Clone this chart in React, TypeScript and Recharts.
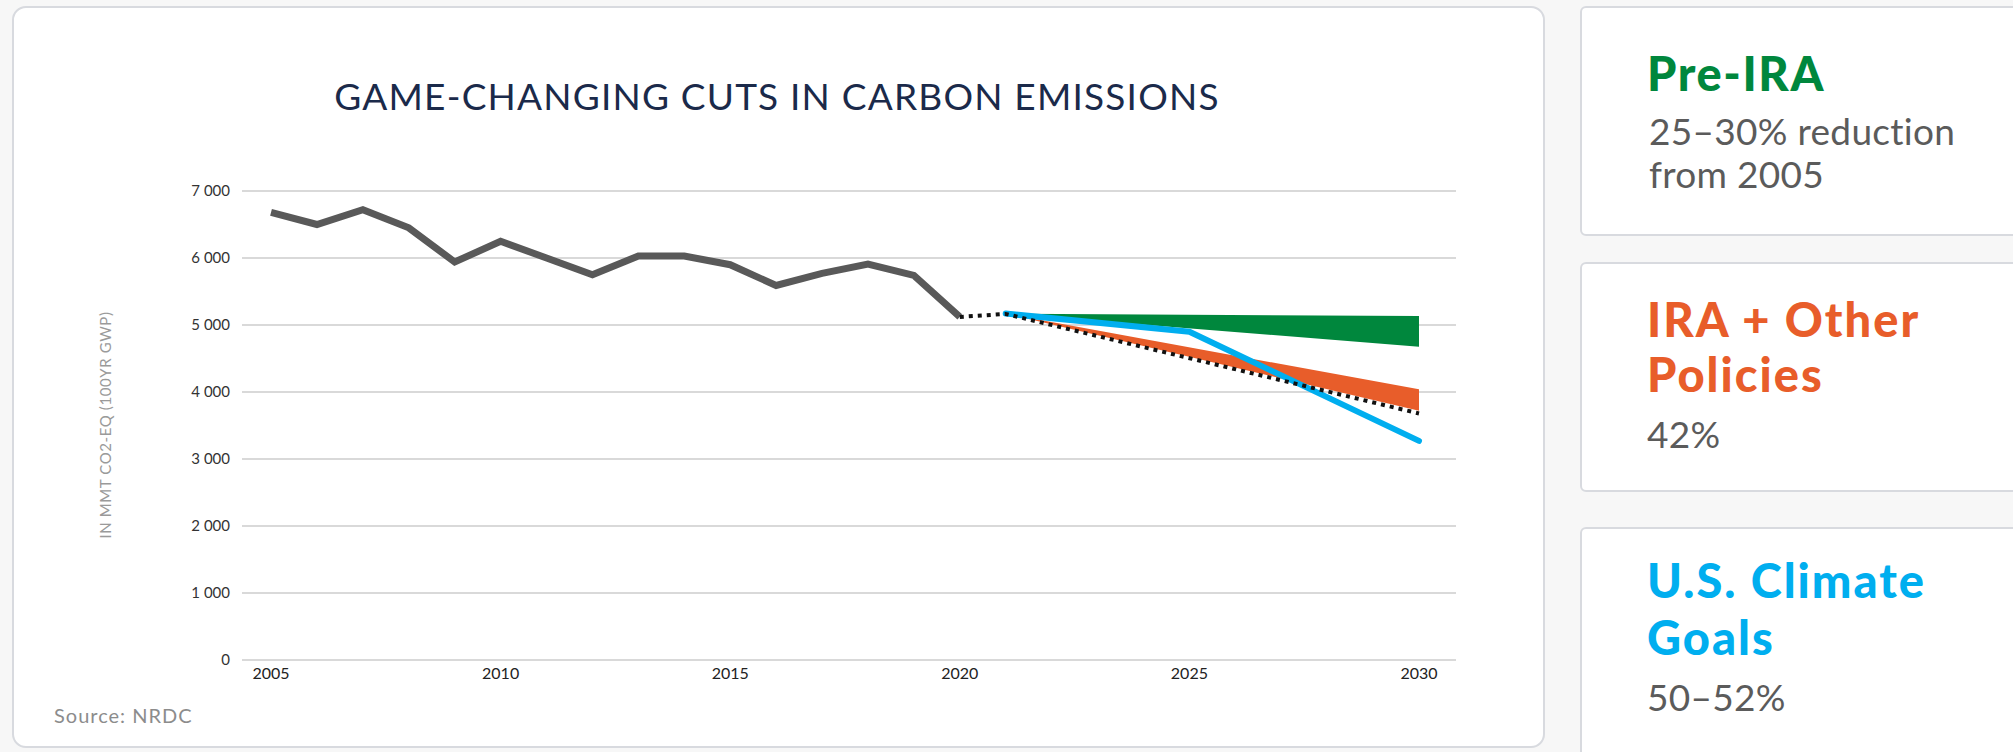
import React from 'react';
import { ComposedChart, Line, Area, XAxis, YAxis, CartesianGrid } from 'recharts';

// Historical emissions (MMT CO2-eq)
const historyYears = [2005, 2006, 2007, 2008, 2009, 2010, 2011, 2012, 2013, 2014, 2015, 2016, 2017, 2018, 2019, 2020];
const historyValues = [6680, 6500, 6720, 6450, 5940, 6250, 6000, 5750, 6030, 6030, 5900, 5590, 5770, 5910, 5740, 5120];

// Dotted trend line
const trendYears = [2020, 2021, 2030];
const trendValues = [5120, 5165, 3680];

// U.S. Climate Goals (blue)
const goalYears = [2021, 2025, 2030];
const goalValues = [5170, 4900, 3270];

// Pre-IRA band (green)
const preIraYears = [2021, 2030];
const preIraLow = [5170, 4676];
const preIraHigh = [5170, 5134];

// IRA + Other Policies band (orange)
const iraYears = [2021, 2030];
const iraLow = [5170, 3720];
const iraHigh = [5170, 4040];

const yTicks = [0, 1000, 2000, 3000, 4000, 5000, 6000, 7000];
const yTickLabels = ['0', '1 000', '2 000', '3 000', '4 000', '5 000', '6 000', '7 000'];
const xTicks = [2005, 2010, 2015, 2020, 2025, 2030];

const title = 'GAME-CHANGING CUTS IN CARBON EMISSIONS';
const yAxisTitle = 'IN MMT CO2-EQ (100YR GWP)';
const source = 'Source: NRDC';

type Row = {
  year: number;
  history?: number;
  trend?: number;
  goal?: number;
  preIra?: [number, number];
  ira?: [number, number];
};

function buildTable(): Row[] {
  const map = new Map<number, Row>();
  const get = (y: number) => {
    if (!map.has(y)) map.set(y, { year: y });
    return map.get(y)!;
  };
  historyYears.forEach((y, i) => (get(y).history = historyValues[i]));
  trendYears.forEach((y, i) => (get(y).trend = trendValues[i]));
  goalYears.forEach((y, i) => (get(y).goal = goalValues[i]));
  preIraYears.forEach((y, i) => (get(y).preIra = [preIraLow[i], preIraHigh[i]]));
  iraYears.forEach((y, i) => (get(y).ira = [iraLow[i], iraHigh[i]]));
  return Array.from(map.values()).sort((a, b) => a.year - b.year);
}

const data = buildTable();

const FONT = 'Lato, "Noto Sans", sans-serif';

const GREEN = '#00873d';
const ORANGE = '#e85d2a';
const BLUE = '#00aeef';
const GRAY_TEXT = '#5b5b5b';

export default function App() {
  return (
    <div
      style={{
        position: 'absolute',
        left: 0,
        top: 0,
        width: 2013,
        height: 752,
        background: '#f7f7f7',
        overflow: 'hidden',
        fontFamily: FONT,
      }}
    >
      {/* Main card */}
      <div
        style={{
          position: 'absolute',
          left: 12,
          top: 6,
          width: 1533,
          height: 742,
          boxSizing: 'border-box',
          background: '#ffffff',
          border: '2px solid #d8dadf',
          borderRadius: 14,
        }}
      />
      {/* Right cards */}
      {[
        { top: 6, height: 230 },
        { top: 262, height: 230 },
        { top: 527, height: 260 },
      ].map((c, i) => (
        <div
          key={i}
          style={{
            position: 'absolute',
            left: 1580,
            top: c.top,
            width: 500,
            height: c.height,
            boxSizing: 'border-box',
            background: '#ffffff',
            border: '2px solid #d8dadf',
            borderRadius: 6,
          }}
        />
      ))}

      <div style={{ position: 'absolute', left: 0, top: 0 }}>
        <ComposedChart
          width={1545}
          height={752}
          data={data}
          margin={{ top: 191, right: 89, bottom: 62, left: 182 }}
        >
          <CartesianGrid horizontal vertical={false} stroke="#d9d9d9" strokeWidth={2} />
          <XAxis
            dataKey="year"
            type="number"
            domain={[2004.368, 2030.806]}
            allowDataOverflow
            ticks={xTicks}
            axisLine={false}
            tickLine={false}
            height={30}
            tick={{ fill: '#222222', fontSize: 16, fontFamily: FONT }}
          />
          <YAxis
            type="number"
            domain={[0, 7000]}
            ticks={yTicks}
            width={60}
            axisLine={false}
            tickLine={false}
            tickSize={0}
            tickMargin={12}
            tickFormatter={(v: number) => yTickLabels[yTicks.indexOf(v)] ?? String(v)}
            tick={{ fill: '#333333', fontSize: 15, fontFamily: FONT }}
          />
          <Line
            dataKey="goal"
            type="linear"
            stroke={BLUE}
            strokeWidth={6}
            strokeLinecap="round"
            dot={false}
            activeDot={false}
            connectNulls
            isAnimationActive={false}
          />
          <Area
            dataKey="preIra"
            type="linear"
            stroke="none"
            fill={GREEN}
            fillOpacity={1}
            dot={false}
            activeDot={false}
            connectNulls
            isAnimationActive={false}
          />
          <Area
            dataKey="ira"
            type="linear"
            stroke="none"
            fill={ORANGE}
            fillOpacity={1}
            dot={false}
            activeDot={false}
            connectNulls
            isAnimationActive={false}
          />
          <Line
            dataKey="history"
            type="linear"
            stroke="#595959"
            strokeWidth={7}
            strokeLinejoin="miter"
            dot={false}
            activeDot={false}
            connectNulls
            isAnimationActive={false}
          />
          <Line
            dataKey="trend"
            type="linear"
            stroke="#111111"
            strokeWidth={4}
            strokeDasharray="4 5"
            dot={false}
            activeDot={false}
            connectNulls
            isAnimationActive={false}
          />
        </ComposedChart>
      </div>

      <svg
        width={2013}
        height={752}
        style={{ position: 'absolute', left: 0, top: 0, pointerEvents: 'none' }}
      >
        <text x={777} y={110} textAnchor="middle" fontFamily={FONT} fontSize={37} letterSpacing={1.2} fill="#1b2a4a">
          {title}
        </text>
        <text
          x={104.5}
          y={425}
          transform="rotate(-90 104.5 425)"
          textAnchor="middle"
          dominantBaseline="central"
          fontFamily={FONT}
          fontSize={15}
          letterSpacing={0.6}
          fill="#9a9a9a"
        >
          {yAxisTitle}
        </text>
        <text x={54} y={723} fontFamily={FONT} fontSize={20} letterSpacing={1} fill="#8c8c8c">
          {source}
        </text>

        <text x={1647} y={91} fontFamily={FONT} fontSize={47} fontWeight={900} letterSpacing={1.6} fill={GREEN}>
          Pre-IRA
        </text>
        <text x={1649} y={145} fontFamily={FONT} fontSize={37} letterSpacing={0.3} fill={GRAY_TEXT}>
          25–30% reduction
        </text>
        <text x={1649} y={188} fontFamily={FONT} fontSize={37} letterSpacing={0.3} fill={GRAY_TEXT}>
          from 2005
        </text>

        <text x={1647} y={337} fontFamily={FONT} fontSize={47} fontWeight={900} letterSpacing={2} fill={ORANGE}>
          IRA + Other
        </text>
        <text x={1647} y={392} fontFamily={FONT} fontSize={47} fontWeight={900} letterSpacing={2} fill={ORANGE}>
          Policies
        </text>
        <text x={1647} y={448} fontFamily={FONT} fontSize={37} letterSpacing={0.3} fill={GRAY_TEXT}>
          42%
        </text>

        <text x={1647} y={598} fontFamily={FONT} fontSize={47} fontWeight={900} letterSpacing={2} fill={BLUE}>
          U.S. Climate
        </text>
        <text x={1647} y={655} fontFamily={FONT} fontSize={47} fontWeight={900} letterSpacing={2} fill={BLUE}>
          Goals
        </text>
        <text x={1647} y={711} fontFamily={FONT} fontSize={37} letterSpacing={0.3} fill={GRAY_TEXT}>
          50–52%
        </text>
      </svg>
    </div>
  );
}
